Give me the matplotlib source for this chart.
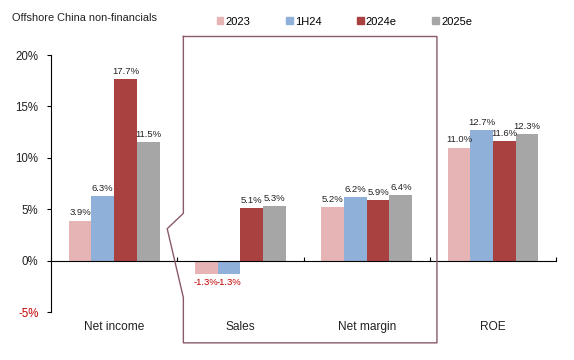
import matplotlib
matplotlib.use("Agg")
import matplotlib.pyplot as plt
from matplotlib.patches import Rectangle
import numpy as np

plt.rcParams["font.family"] = ["Liberation Sans", "DejaVu Sans"]

### data
categories = ["Net income", "Sales", "Net margin", "ROE"]
series = ["2023", "1H24", "2024e", "2025e"]
v2023 = [3.9, -1.3, 5.2, 11.0]
v1h24 = [6.3, -1.3, 6.2, 12.7]
v2024e = [17.7, 5.1, 5.9, 11.6]
v2025e = [11.5, 5.3, 6.4, 12.3]
colors = ["#e6b4b4", "#8eb0d9", "#aa4141", "#a6a6a6"]
yticks = [-5, 0, 5, 10, 15, 20]


def main():
    fig = plt.figure(figsize=(5.74, 3.6), dpi=100)
    ax = fig.add_axes([0.0889, 0.1333, 0.88, 0.7139])

    x = np.arange(len(categories))
    width = 0.18
    all_vals = [v2023, v1h24, v2024e, v2025e]
    handles = []
    for i, vals in enumerate(all_vals):
        pos = x + (i - 1.5) * width
        bars = ax.bar(pos, vals, width, color=colors[i], zorder=2)
        handles.append(Rectangle((0, 0), 1, 1, color=colors[i]))
        for b, v in zip(bars, vals):
            if v >= 0:
                ax.text(b.get_x() + b.get_width() / 2, v + 0.3, f"{v:.1f}%",
                        ha="center", va="bottom", fontsize=6.8, color="#222222")
            else:
                ax.text(b.get_x() + b.get_width() / 2, v - 0.4, f"{v:.1f}%",
                        ha="center", va="top", fontsize=6.8, color="#c00000")

    ax.set_xlim(-0.5, 3.5)
    ax.set_ylim(-5, 20)
    ax.set_yticks(yticks)
    ax.set_yticklabels([f"{t}%" for t in yticks], fontsize=8.3)
    for lab, t in zip(ax.get_yticklabels(), yticks):
        lab.set_color("#c00000" if t < 0 else "#222222")
    ax.tick_params(axis="y", direction="out", length=3, width=0.8, pad=6)

    # x axis at zero with ticks between categories
    ax.spines["top"].set_visible(False)
    ax.spines["right"].set_visible(False)
    ax.spines["bottom"].set_position(("data", 0))
    ax.spines["left"].set_linewidth(0.8)
    ax.spines["bottom"].set_linewidth(0.8)
    ax.set_xticks(np.arange(-0.5, 4, 1))
    ax.set_xticklabels([])
    ax.tick_params(axis="x", direction="in", length=3, width=0.8)

    for i, c in enumerate(categories):
        ax.text(x[i], -6.5, c, ha="center", va="center", fontsize=8.6,
                color="#222222", clip_on=False)

    # highlight box around Sales / Net margin with break mark
    bx = [0.548, 2.556, 2.556, 0.548, 0.548, 0.42, 0.548, 0.548]
    by = [21.8, 21.8, -8.0, -8.0, -3.6, 3.1, 4.6, 21.8]
    ax.plot(bx, by, color="#8a5a68", lw=1.0, clip_on=False, zorder=3)

    fig.text(0.021, 0.95, "Offshore China non-financials", fontsize=7.9,
             color="#222222", va="center")
    fig.legend(handles, series, loc="center", bbox_to_anchor=(0.6, 0.94),
               ncol=4, frameon=False, fontsize=8, handlelength=0.6,
               handleheight=0.6, handletextpad=0.2, columnspacing=3.2)

    fig.savefig("out.png", dpi=100)


if __name__ == "__main__":
    main()
